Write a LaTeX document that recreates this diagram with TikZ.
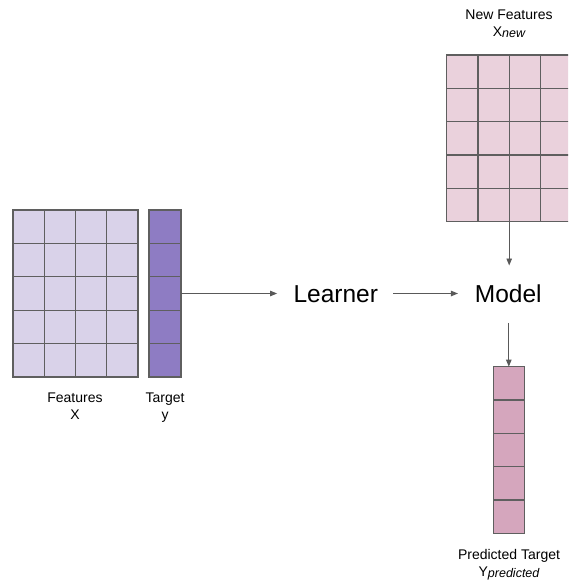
\documentclass[tikz,border=0pt]{standalone}
\usepackage{fontspec}
\setmainfont{Liberation Sans}
\usetikzlibrary{arrows.meta}
\definecolor{featfill}{HTML}{D9D2E9}
\definecolor{targfill}{HTML}{8E7CC3}
\definecolor{newfill}{HTML}{EAD1DC}
\definecolor{predfill}{HTML}{D5A6BD}
\definecolor{edgegray}{HTML}{5F5F5F}
\definecolor{arrowgray}{HTML}{595959}
\newcommand{\subtxt}[1]{\raisebox{-0.8pt}{\fontsize{12.5}{12.5}\selectfont\itshape #1}}
\begin{document}
\begin{tikzpicture}[x=1pt,y=-1pt,
  cellbox/.style={draw=edgegray, line width=1.3pt, inner sep=0pt, outer sep=0pt},
  cellline/.style={draw=edgegray, line width=1.3pt},
  bigtext/.style={font=\fontsize{24.5}{28}\selectfont, inner sep=0pt, outer sep=0pt},
  smalltext/.style={font=\fontsize{14}{17}\selectfont, align=center, inner sep=0pt, anchor=north},
  conn/.style={draw=arrowgray, line width=0.9pt, -{Triangle[length=7pt,width=5.5pt]}}]
\clip (0,0) rectangle (568,580);
\fill[white] (0,0) rectangle (568,580);

% Features X grid
\node[cellbox, fill=featfill, minimum width=125pt, minimum height=167pt] (feat) at (75.5,293.5) {};
\foreach \i in {1,2,3}
  \draw[cellline] ([xshift=\i*31.25pt]feat.north west) -- ([xshift=\i*31.25pt]feat.south west);
\foreach \j in {1,2,3,4}
  \draw[cellline] ([yshift=-\j*33.4pt]feat.north west) -- ([yshift=-\j*33.4pt]feat.north east);

% Target y column
\node[cellbox, fill=targfill, minimum width=32pt, minimum height=167pt] (targ) at (165,293.5) {};
\foreach \j in {1,2,3,4}
  \draw[cellline] ([yshift=-\j*33.4pt]targ.north west) -- ([yshift=-\j*33.4pt]targ.north east);

% New features grid
\node[cellbox, fill=newfill, minimum width=125pt, minimum height=166.7pt] (newf) at (509.2,138.35) {};
\foreach \i in {1,2,3}
  \draw[cellline] ([xshift=\i*31.25pt]newf.north west) -- ([xshift=\i*31.25pt]newf.south west);
\foreach \j in {1,2,3,4}
  \draw[cellline] ([yshift=-\j*33.34pt]newf.north west) -- ([yshift=-\j*33.34pt]newf.north east);

% Predicted target column
\node[cellbox, fill=predfill, minimum width=31pt, minimum height=166.7pt] (pred) at (508.8,450) {};
\foreach \j in {1,2,3,4}
  \draw[cellline] ([yshift=-\j*33.34pt]pred.north west) -- ([yshift=-\j*33.34pt]pred.north east);

% Text nodes
\node[bigtext] (learner) at (335.8,294) {Learner};
\node[bigtext] (model) at (508.3,294) {Model};

\node[smalltext] (featlab) at (75,393) {Features\\X};
\node[smalltext] (targlab) at (165,393) {Target\\y};
\node[smalltext] (newlab) at (509,9.6) {New Features\\X\subtxt{new}};
\node[smalltext] (predlab) at (509,549.6) {Predicted Target\\Y\subtxt{predicted}};

% Connectors
\draw[conn] (targ.east) -- ([xshift=-16.5pt]learner.west |- targ.east);
\draw[conn, shorten <=15pt, shorten >=17pt] (learner.east |- targ.east) -- (model.west |- targ.east);
\draw[conn, shorten >=19.5pt] (newf.south) -- (newf.south |- model.north);
\draw[conn, shorten <=20pt] (pred.north |- model.south) -- (pred.north);
\end{tikzpicture}
\end{document}
